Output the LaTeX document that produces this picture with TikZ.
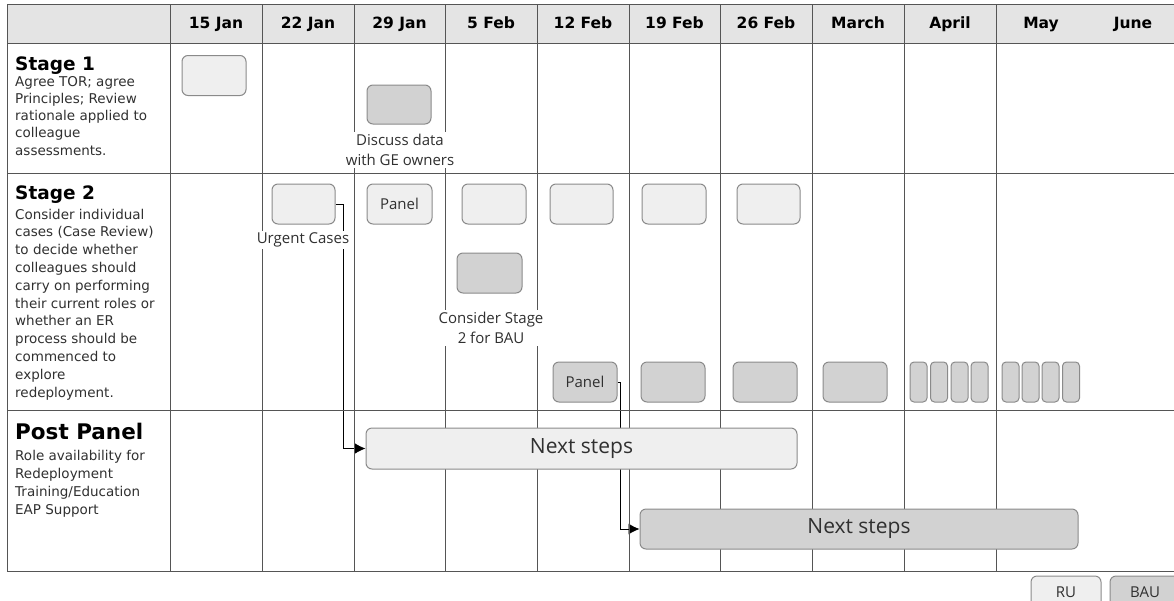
\documentclass[tikz,border=0pt]{standalone}
\usepackage{fontspec}
\setmainfont{DejaVu Sans}
\newfontfamily\lblfont{Open Sans}
\usetikzlibrary{arrows.meta,calc,positioning,backgrounds}
\definecolor{gridline}{HTML}{555555}
\definecolor{headfill}{HTML}{E4E4E4}
\definecolor{rufill}{HTML}{EFEFEF}
\definecolor{baufill}{HTML}{D2D2D2}
\definecolor{boxedge}{HTML}{8A8A8A}
\definecolor{inktext}{HTML}{303030}
\tikzset{
  gridrule/.style={line width=0.9pt,gridline},
  rubox/.style={draw=boxedge,fill=rufill,line width=1pt,rounded corners=6pt,minimum width=64pt,minimum height=40pt,inner sep=0pt,font=\lblfont\fontsize{15}{18}\selectfont,text=inktext},
  baubox/.style={rubox,fill=baufill},
  thinbox/.style={baubox,minimum width=17pt,rounded corners=4pt},
  note/.style={fill=white,inner sep=2pt,align=center,font=\lblfont\fontsize{15}{20}\selectfont,text=inktext},
  link/.style={-{Latex[length=11pt,width=11pt]},line width=0.8pt,black},
  stagetitle/.style={anchor=base west,inner sep=0pt,font=\bfseries\fontsize{18.5}{20}\selectfont},
  stagetext/.style={anchor=base west,inner sep=0pt,font=\fontsize{13.5}{17.8}\selectfont,text=inktext},
  datehead/.style={anchor=base,font=\bfseries\fontsize{15.5}{18}\selectfont}
}
\newcommand{\celltext}[1]{\begin{tabular}[t]{@{}l@{}}#1\end{tabular}}

\begin{document}
\begin{tikzpicture}[x=1pt,y=-1pt]
  \useasboundingbox (0,0) rectangle (1174,600);
  \fill[headfill] (7,4) rectangle (1174,43);
  \foreach \x in {7,170,262,354,445,537,629,720,812,904,996} \draw[gridrule] (\x,4) -- (\x,571);
  \foreach \y in {4,43,173,410,571} \draw[gridrule] (7,\y) -- (1174,\y);
  \foreach \x/\d in {216/15 Jan,308/22 Jan,399.5/29 Jan,491/5 Feb,583/12 Feb,674.5/19 Feb,766/26 Feb,858/March,950/April,1041/May,1133/June}
    \node[datehead] (d\x) at (\x,28) {\d};

  \node[stagetitle] (st1) at (15,70) {Stage 1};
  \node[stagetext,font=\fontsize{13.5}{17.3}\selectfont] (tx1) at (15,86) {\celltext{Agree TOR; agree\\Principles; Review\\rationale applied to\\colleague\\assessments.}};
  \node[stagetitle] (st2) at (15,199) {Stage 2};
  \node[stagetext] (tx2) at (15,219) {\celltext{Consider individual\\cases (Case Review)\\to decide whether\\colleagues should\\carry on performing\\their current roles or\\whether an ER\\process should be\\commenced to\\explore\\redeployment.}};
  \node[stagetitle,font=\bfseries\fontsize{21.5}{24}\selectfont] (st3) at (15,439) {Post Panel};
  \node[stagetext,font=\fontsize{13.5}{18.3}\selectfont] (tx3) at (15,460) {\celltext{Role availability for\\Redeployment\\Training/Education\\EAP Support}};

  \node[rubox] (tor) at (214,75.5) {};
  \node[baubox,minimum height=39pt] (ge) at (399,104.5) {};

  \node[rubox,minimum width=63pt] (urg) at (303.5,204) {};
  \node[rubox,minimum width=65pt] (pan1) at (399.5,204) {Panel};
  \node[rubox] (ru5) at (494,204) {};
  \node[rubox,minimum width=63pt] (ru12) at (581.5,204) {};
  \node[rubox] (ru19) at (674,204) {};
  \node[rubox,minimum width=63pt] (ru26) at (768.5,204) {};
  \node[baubox,minimum width=65pt] (bau5) at (489.5,273) {};

  \node[baubox] (pan2) at (585,382) {Panel};
  \node[baubox] (bau19) at (673,382) {};
  \node[baubox] (bau26) at (765,382) {};
  \node[baubox] (baumar) at (855,382) {};
  \foreach \i/\x in {1/918.5,2/939,3/959.5,4/979.5} \node[thinbox] (apr\i) at (\x,382) {};
  \foreach \i/\x in {1/1010.5,2/1030.5,3/1050.5,4/1071} \node[thinbox] (may\i) at (\x,382) {};

  \node[rubox,minimum width=431pt,minimum height=41pt,font=\lblfont\fontsize{21}{24}\selectfont] (next1) at (581.5,448.5) {Next steps};
  \node[baubox,minimum width=438pt,minimum height=40pt,font=\lblfont\fontsize{21}{24}\selectfont] (next2) at (859,529) {Next steps};

  \begin{scope}[on background layer]
    \draw[link] (urg.east) -- ++(8,0) |- (next1.west);
    \draw[link] (pan2.east) -- ++(3,0) |- (next2.west);
  \end{scope}

  \node[note] (genote) at (400,150) {Discuss data\\with GE owners};
  \node[note] (urgnote) at (303,240) {Urgent Cases};
  \node[note] (baunote) at (491,328) {Consider Stage\\2 for BAU};

  \node[rubox,minimum width=70pt,minimum height=32pt] (legru) at (1066,592) {RU};
  \node[baubox,minimum width=70pt,minimum height=32pt] (legbau) at (1145,592) {BAU};
\end{tikzpicture}
\end{document}
